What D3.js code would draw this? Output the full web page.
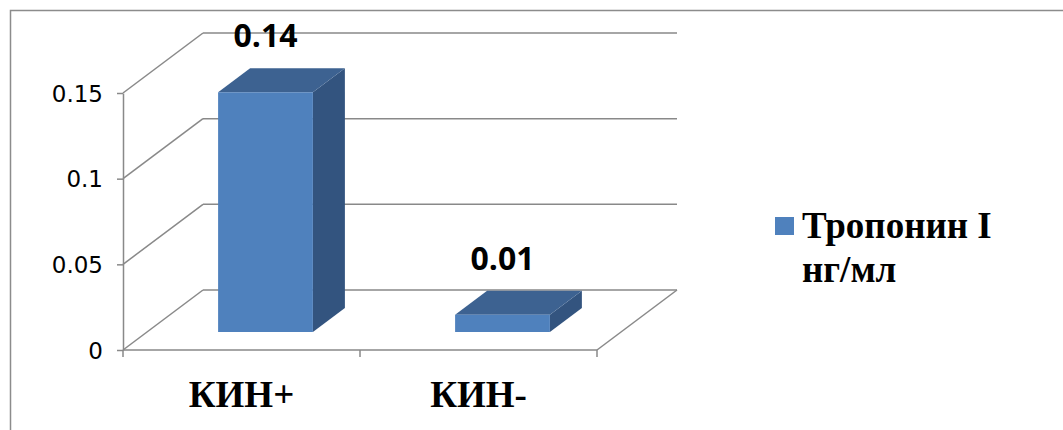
<!DOCTYPE html>
<html>
<head>
<meta charset="utf-8">
<script src="https://cdn.jsdelivr.net/npm/d3@7"></script>
<style>
  body { margin: 0; background: #fff; }
  svg { display: block; }
</style>
</head>
<body>
<svg id="chart"></svg>
<script>
let categories = ["КИН+", "КИН-"];
let values = [0.14, 0.01];
let yTicks = [0, 0.05, 0.1, 0.15];
let legendLines = ["Тропонин I", "нг/мл"];

let width = 1063, height = 430;
let svg = d3.select("#chart").attr("width", width).attr("height", height);

// 3D look: depth offset of back wall
let dx = 80, dy = -60;
let barFront = 0.3, barBack = 0.7;
let gridColor = "#898989";

let x = d3.scaleBand().domain(categories).range([123, 597])
  .paddingInner(0.6).paddingOuter(0.3);
let y = d3.scaleLinear().domain([0, 0.15]).range([350, 93]);

let shift = (px, py, f) => [px + dx * f, py + dy * f];

// outer frame
svg.append("path")
  .attr("d", "M10.5," + height + "V10.5H" + width)
  .attr("fill", "none").attr("stroke", "#8c8c8c").attr("stroke-width", 1.5);

let grid = svg.append("g").attr("stroke", gridColor).attr("stroke-width", 1.5).attr("fill", "none");

// back wall lines + left wall diagonals
yTicks.forEach((t) => {
  let [bx, by] = shift(x.range()[0], y(t), 1);
  let [ex, ey] = shift(x.range()[1], y(t), 1);
  grid.append("line").attr("x1", bx).attr("y1", by).attr("x2", ex).attr("y2", ey);
  grid.append("line").attr("x1", x.range()[0]).attr("y1", y(t)).attr("x2", bx).attr("y2", by);
});
// floor right edge
let [fx, fy] = shift(x.range()[1], y(0), 1);
grid.append("line").attr("x1", x.range()[1]).attr("y1", y(0)).attr("x2", fx).attr("y2", fy);

// y axis
let yAxis = svg.append("g")
  .attr("transform", "translate(" + x.range()[0] + ",0)")
  .call(d3.axisLeft(y).tickValues(yTicks).tickSize(6).tickSizeOuter(0).tickFormat((d) => String(d)));
yAxis.attr("font-family", "DejaVu Sans").attr("font-size", 23);
yAxis.selectAll("path, line").attr("stroke", gridColor).attr("stroke-width", 1.5);
yAxis.selectAll("text")
  .attr("fill", "#000")
  .attr("x", -20).attr("dy", "0.36em");

// category axis
let bounds = d3.range(categories.length + 1).map((i) => x.range()[0] + i * x.step());
let xAxis = svg.append("g");
xAxis.append("line")
  .attr("x1", x.range()[0]).attr("x2", x.range()[1])
  .attr("y1", y(0)).attr("y2", y(0))
  .attr("stroke", gridColor).attr("stroke-width", 1.5);
xAxis.selectAll(".tick")
  .data(bounds)
  .enter()
  .append("line")
  .attr("x1", (d) => d).attr("x2", (d) => d)
  .attr("y1", y(0)).attr("y2", y(0) + 7)
  .attr("stroke", gridColor).attr("stroke-width", 1.5);
xAxis.selectAll("text")
  .data(categories)
  .enter()
  .append("text")
  .attr("x", (d) => x(d) + x.bandwidth() / 2)
  .attr("y", 407)
  .attr("text-anchor", "middle")
  .attr("font-family", "Liberation Serif")
  .attr("font-weight", "bold")
  .attr("font-size", 37)
  .text((d) => d);

// bars
let bars = svg.selectAll(".bar")
  .data(categories.map((c, i) => ({ c: c, v: values[i] })))
  .enter()
  .append("g")
  .attr("class", "bar");

let pts = (arr) => arr.map((p) => p.join(",")).join(" ");

bars.each(function (d) {
  let g = d3.select(this);
  let x0 = x(d.c), x1 = x(d.c) + x.bandwidth();
  let yt = y(d.v), yb = y(0);
  let fTL = shift(x0, yt, barFront), fTR = shift(x1, yt, barFront);
  let fBL = shift(x0, yb, barFront), fBR = shift(x1, yb, barFront);
  let bTL = shift(x0, yt, barBack), bTR = shift(x1, yt, barBack);
  let bBR = shift(x1, yb, barBack);
  g.append("polygon").attr("points", pts([fTR, bTR, bBR, fBR])).attr("fill", "#33547F");
  g.append("polygon").attr("points", pts([fTL, bTL, bTR, fTR])).attr("fill", "#3D6291");
  g.append("polygon").attr("points", pts([fTL, fTR, fBR, fBL])).attr("fill", "#4F81BD");
  g.append("text")
    .attr("x", (fTL[0] + fTR[0]) / 2)
    .attr("y", bTL[1] - 21)
    .attr("text-anchor", "middle")
    .attr("font-family", "Open Sans")
    .attr("font-weight", "bold")
    .attr("font-size", 32)
    .attr("fill", "#000")
    .text(d.v);
});

// legend
let legend = svg.append("g");
legend.append("rect")
  .attr("x", 775).attr("y", 217).attr("width", 19).attr("height", 18)
  .attr("fill", "#4F81BD");
legend.selectAll("text")
  .data(legendLines)
  .enter()
  .append("text")
  .attr("x", 802)
  .attr("y", (d, i) => 238 + i * 44)
  .attr("font-family", "Liberation Serif")
  .attr("font-weight", "bold")
  .attr("font-size", 37)
  .text((d) => d);
</script>
</body>
</html>
